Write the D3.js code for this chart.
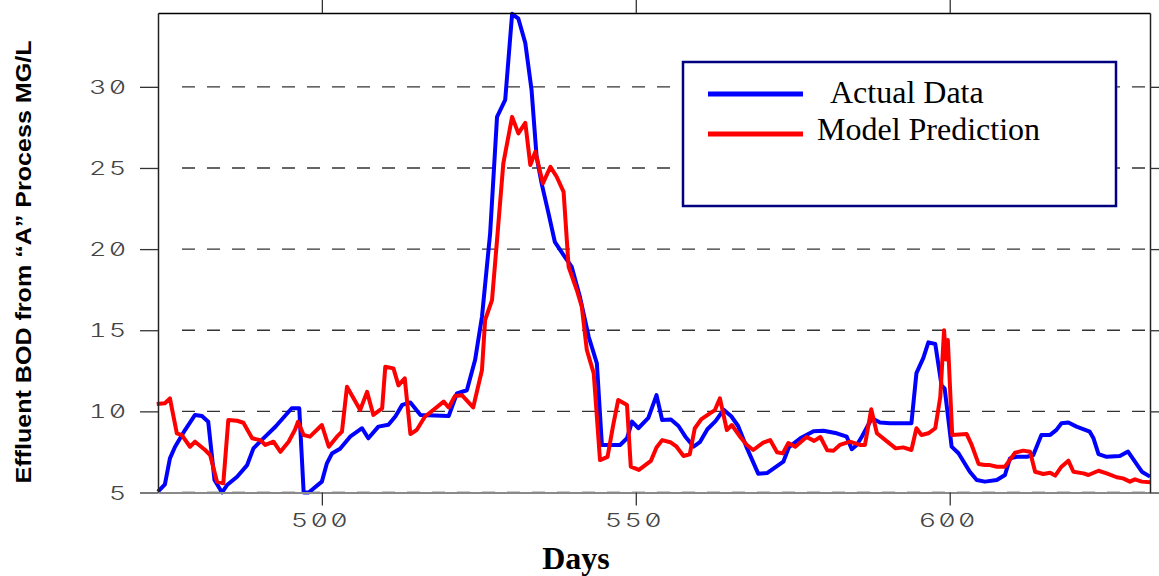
<!DOCTYPE html>
<html>
<head>
<meta charset="utf-8">
<script src="https://cdn.jsdelivr.net/npm/d3@7"></script>
<style>
  html, body { margin: 0; padding: 0; background: #fff; }
  svg { display: block; }
</style>
</head>
<body>
<div id="chart"></div>
<script>
// Effluent BOD, measured vs. model, by day
const actualDays = [473.9,475.0,475.8,476.6,478.2,479.8,480.9,481.9,482.9,484.1,484.9,486.5,488.1,489.1,490.4,492.6,495.2,496.4,497.1,497.9,500.0,500.8,501.6,502.9,504.5,506.4,507.4,509.0,510.6,511.7,512.8,514.1,515.7,520.2,521.5,523.1,524.4,525.5,526.8,527.9,529.2,530.3,531.3,532.4,533.4,534.2,535.0,536.1,537.1,538.5,539.8,541.1,542.5,543.8,544.6,547.5,548.6,549.4,550.4,552.0,553.3,554.2,555.6,556.8,557.9,559.2,560.2,561.4,562.7,564.0,565.2,566.3,567.6,569.5,570.9,573.5,574.4,576.2,578.3,579.9,582.0,583.6,584.4,585.2,586.0,587.6,588.9,590.5,593.9,594.7,595.8,596.6,597.7,598.7,599.2,600.3,601.4,603.2,604.3,605.6,607.5,608.8,609.6,610.7,612.3,613.3,614.6,616.0,617.0,617.8,618.9,620.2,622.3,622.9,623.7,625.0,627.1,628.4,629.5,630.6,631.9];
const actualBOD = [5.05,5.5,7.1,7.8,8.85,9.78,9.71,9.36,5.77,5.0,5.46,5.97,6.69,7.72,8.23,9.05,10.19,10.19,5.0,5.0,5.67,6.8,7.4,7.7,8.44,8.96,8.34,9.06,9.17,9.68,10.4,10.55,9.78,9.71,11.1,11.3,13.16,15.83,20.97,28.15,29.2,34.5,34.2,32.7,29.8,25.7,24.05,22.2,20.45,19.63,18.9,17.06,14.6,12.96,7.93,7.93,8.34,9.37,8.96,9.6,11.0,9.47,9.5,9.1,8.44,7.83,8.1,8.9,9.4,10.1,9.7,9.1,7.83,6.16,6.2,6.9,7.8,8.34,8.78,8.81,8.65,8.44,7.67,7.93,8.44,9.58,9.31,9.27,9.27,12.36,13.3,14.25,14.15,11.6,11.4,7.83,7.42,6.28,5.77,5.67,5.77,6.08,7.1,7.2,7.2,7.3,8.55,8.55,8.86,9.27,9.31,9.06,8.75,8.34,7.37,7.2,7.25,7.52,6.9,6.28,5.98];

const modelDays = [473.7,475.0,475.8,476.9,477.7,479.0,479.8,481.4,482.2,483.3,484.3,485.1,486.5,487.5,488.9,490.2,491.0,492.3,493.4,494.7,495.7,496.2,497.1,498.1,500.0,501.1,502.4,503.2,504.0,506.1,507.2,508.2,509.6,510.1,511.4,512.2,513.2,514.1,515.1,516.4,519.4,520.2,521.2,522.3,524.1,525.5,526.0,527.1,527.9,528.9,530.3,531.3,532.4,533.2,534.0,535.2,536.4,537.4,538.5,539.3,540.6,541.4,542.2,543.3,544.3,545.5,546.4,547.2,548.6,549.2,550.5,552.4,553.3,554.2,555.5,556.5,557.6,558.6,559.4,560.4,561.8,562.6,563.4,564.5,565.3,566.6,567.7,568.7,570.3,571.4,572.5,573.4,574.3,575.4,577.2,578.4,579.4,580.5,581.5,582.5,584.1,585.7,586.5,587.5,588.4,590.0,591.4,592.6,593.9,594.7,595.5,596.6,597.7,598.5,599.1,599.4,599.7,600.4,602.7,603.5,604.6,605.6,606.4,607.5,608.8,610.4,611.7,612.8,613.6,614.9,616.0,616.8,617.8,618.9,619.7,621.3,622.1,623.7,625.0,626.6,627.6,628.7,629.5,630.6,631.9];
const modelBOD = [10.45,10.5,10.8,8.65,8.54,7.82,8.13,7.62,7.31,5.67,5.57,9.47,9.42,9.3,8.34,8.23,7.93,8.13,7.51,8.13,8.85,9.36,8.54,8.44,9.16,7.82,8.44,8.75,11.52,10.08,11.2,9.78,10.19,12.75,12.65,11.6,12.04,8.6,8.85,9.67,10.6,10.24,10.95,11.0,10.24,12.55,15.63,16.86,20.56,25.28,28.15,27.13,27.78,25.18,26.0,24.05,25.07,24.46,23.53,18.91,17.48,16.45,13.78,12.34,7.0,7.2,9.15,10.7,10.39,6.6,6.39,6.95,7.77,8.23,8.1,7.82,7.25,7.36,8.96,9.5,9.88,10.08,10.8,8.85,9.16,8.44,7.93,7.62,8.08,8.23,7.48,7.41,8.05,7.82,8.42,8.18,8.42,7.6,7.58,7.93,8.13,7.93,7.93,10.13,8.65,8.15,7.72,7.78,7.62,8.96,8.54,8.65,8.96,10.9,15.0,13.2,14.4,8.54,8.6,7.93,6.76,6.69,6.69,6.59,6.59,7.45,7.58,7.51,6.28,6.14,6.22,6.04,6.59,6.96,6.28,6.18,6.08,6.34,6.18,5.94,5.87,5.67,5.81,5.67,5.63];

const seriesNames = ["Actual Data", "Model Prediction"];
const seriesColors = ["#0000ff", "#ff0000"];
const xTicks = [500, 550, 600];
const yTicks = [5, 10, 15, 20, 25, 30];
const xTitle = "Days";
const yTitle = "Effluent BOD from \u201cA\u201d Process MG/L";

const W = 1159, H = 576;
const plot = { left: 158, right: 1150, top: 13, bottom: 492.5 };

const svg = d3.select("#chart").append("svg")
  .attr("width", W).attr("height", H);

const x = d3.scaleLinear().domain([473.9, 631.9]).range([plot.left, plot.right]);
const y = d3.scaleLinear().domain([5, 34.55]).range([plot.bottom, plot.top]);

// dashed horizontal grid
svg.append("g").selectAll("line").data(yTicks).join("line")
  .attr("x1", plot.left + 12).attr("x2", plot.right)
  .attr("y1", d => y(d)).attr("y2", d => y(d))
  .attr("stroke", "#333").attr("stroke-width", 1.4)
  .attr("stroke-dasharray", "13 12").attr("stroke-dashoffset", 13);

// data lines
const line = d3.line().x(d => x(d[0])).y(d => y(d[1]));
const actual = actualDays.map((d, i) => [d, actualBOD[i]]);
const model = modelDays.map((d, i) => [d, modelBOD[i]]);
[actual, model].forEach((s, i) => {
  svg.append("path").datum(s)
    .attr("d", line)
    .attr("fill", "none")
    .attr("stroke", seriesColors[i])
    .attr("stroke-width", 4)
    .attr("stroke-linejoin", "round");
});

// axes
const tickFont = sel => sel
  .attr("font-family", "Inter, 'DejaVu Sans Mono', monospace")
  .attr("font-size", 18)
  .attr("font-weight", 300)
  .attr("fill", "#444")
  .style("font-feature-settings", "'zero' 1, 'tnum' 1")
  .style("letter-spacing", "1.5px");

const gLeft = svg.append("g").attr("transform", `translate(${plot.left},0)`)
  .call(d3.axisLeft(y).tickValues(yTicks).tickSize(18).tickSizeOuter(0).tickFormat(d3.format("d")));
gLeft.selectAll("text")
  .attr("x", null).attr("dy", null)
  .attr("text-anchor", "end")
  .attr("transform", "translate(-29.5,6.5) scale(1.5,1)")
  .call(tickFont);

const gBottom = svg.append("g").attr("transform", `translate(0,${plot.bottom})`)
  .call(d3.axisBottom(x).tickValues(xTicks).tickSize(13).tickSizeOuter(0).tickFormat(d3.format("d")));
gBottom.selectAll("text")
  .attr("y", null).attr("dy", null)
  .attr("text-anchor", "middle")
  .attr("transform", "translate(-2,34.5) scale(1.5,1)")
  .call(tickFont);

const gTop = svg.append("g").attr("transform", `translate(0,${plot.top})`)
  .call(d3.axisTop(x).tickValues(xTicks).tickSize(13).tickSizeOuter(0).tickFormat(""));
const gRight = svg.append("g").attr("transform", `translate(${plot.right},0)`)
  .call(d3.axisRight(y).tickValues(yTicks).tickSize(10).tickSizeOuter(0).tickFormat(""));

[gLeft, gBottom, gTop, gRight].forEach(g => {
  g.selectAll(".tick line").attr("stroke", "#333").attr("stroke-width", 1.3);
  g.select(".domain").attr("stroke", "#222").attr("stroke-width", 1.5);
});
gBottom.select(".domain").attr("stroke", "#8a8a8a").attr("stroke-width", 2);
gTop.select(".domain").attr("stroke", "#000");

// legend
const lg = svg.append("g");
lg.append("rect")
  .attr("x", 683).attr("y", 62).attr("width", 433).attr("height", 144)
  .attr("fill", "#fff").attr("stroke", "#000080").attr("stroke-width", 2.5);
const legendRows = [
  { ly: 94, tx: 830, ty: 103 },
  { ly: 134, tx: 817, ty: 140 }
];
legendRows.forEach((r, i) => {
  lg.append("line")
    .attr("x1", 708).attr("x2", 803).attr("y1", r.ly).attr("y2", r.ly)
    .attr("stroke", seriesColors[i]).attr("stroke-width", 5);
  lg.append("text")
    .attr("x", r.tx).attr("y", r.ty)
    .attr("font-family", "'Liberation Serif', 'Times New Roman', serif")
    .attr("font-size", 32).attr("fill", "#000")
    .text(seriesNames[i]);
});

// axis titles
svg.append("text")
  .attr("x", 576).attr("y", 569)
  .attr("text-anchor", "middle")
  .attr("font-family", "'Liberation Serif', 'Times New Roman', serif")
  .attr("font-weight", "bold").attr("font-size", 32)
  .text(xTitle);

svg.append("text")
  .attr("transform", "translate(31,262) rotate(-90)")
  .attr("text-anchor", "middle")
  .attr("font-family", "'Liberation Sans', Arial, sans-serif")
  .attr("font-weight", "bold").attr("font-size", 22)
  .attr("textLength", 443).attr("lengthAdjust", "spacingAndGlyphs")
  .text(yTitle);
</script>
</body>
</html>
